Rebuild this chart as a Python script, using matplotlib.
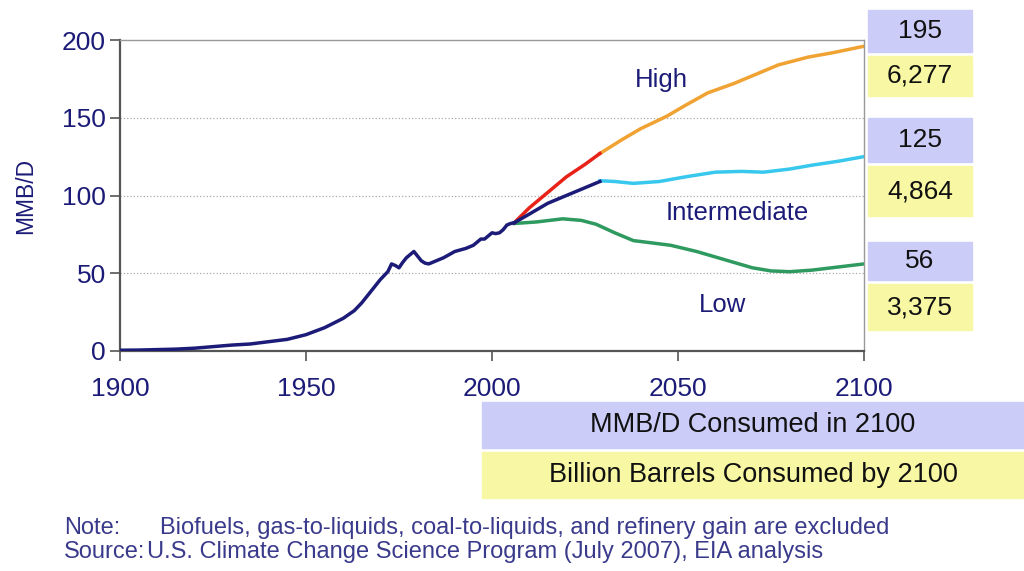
import matplotlib.pyplot as plt
from matplotlib.patches import Rectangle

plt.rcParams['font.family'] = ['Liberation Sans', 'DejaVu Sans']

navy = '#1c1c78'

# historical world oil consumption, MMB/D
hist_years = [1900, 1905, 1910, 1915, 1920, 1925, 1930, 1935, 1940, 1945, 1950,
              1955, 1960, 1963, 1965, 1967, 1970, 1972, 1973, 1974, 1975, 1976,
              1977, 1978, 1979, 1980, 1981, 1982, 1983, 1985, 1987, 1990, 1993,
              1995, 1997, 1998, 1999, 2000, 2001, 2002, 2003, 2004, 2005, 2006]
hist_vals = [0.5, 0.6, 0.9, 1.2, 1.8, 2.8, 3.8, 4.5, 6.0, 7.5, 10.5,
             15, 21, 26, 31, 37, 46, 51, 56, 55, 53.5, 57,
             60, 62, 64, 61, 58, 56.5, 56, 58, 60, 64, 66,
             68, 72, 72, 74, 76, 75.5, 76, 78, 81, 82, 82.5]

# near-term projections to 2030
red_years = [2006, 2010, 2015, 2020, 2025, 2029]
red_vals = [82.5, 92, 102, 112, 120, 127]
mid_years = [2006, 2010, 2015, 2020, 2025, 2029]
mid_vals = [82.5, 88, 95, 100, 105, 109]

# long-term scenarios
high_years = [2029, 2035, 2040, 2047, 2052, 2058, 2065, 2070, 2077, 2085, 2092, 2100]
high_vals = [127, 136, 143, 151, 158, 166, 172, 177, 184, 189, 192, 196]
inter_years = [2029, 2033, 2038, 2045, 2052, 2060, 2067, 2073, 2080, 2086, 2093, 2100]
inter_vals = [109.5, 109, 107.8, 109, 112, 115, 115.5, 115, 117, 119.5, 122, 125]
low_years = [2006, 2012, 2019, 2024, 2028, 2033, 2038, 2043, 2048, 2055, 2060,
             2065, 2070, 2075, 2080, 2086, 2093, 2100]
low_vals = [82, 83, 85, 84, 81.5, 76, 71, 69.5, 68, 64, 60.5,
            57, 53.5, 51.5, 51, 52, 54, 56]

rate_2100 = ['195', '125', '56']
cum_2100 = ['6,277', '4,864', '3,375']

fig = plt.figure(figsize=(10.24, 5.71), dpi=100)
ax = fig.add_axes([120/1024, 1-351/571, 744/1024, 311/571])

lw = 2.5
ax.plot(hist_years, hist_vals, color=navy, lw=lw, zorder=5)
ax.plot(red_years, red_vals, color='#e82218', lw=lw, zorder=4)
ax.plot(mid_years, mid_vals, color=navy, lw=lw, zorder=5)
ax.plot(high_years, high_vals, color='#f0a232', lw=lw)
ax.plot(inter_years, inter_vals, color='#38c8ee', lw=lw)
ax.plot(low_years, low_vals, color='#2e9a60', lw=lw)

ax.set_xlim(1900, 2100)
ax.set_ylim(0, 200)
ax.set_xticks([1900, 1950, 2000, 2050, 2100])
ax.set_yticks([0, 50, 100, 150, 200])
ax.tick_params(axis='both', labelsize=19, labelcolor=navy, length=7,
               width=1.2, color='#555555', direction='out')
ax.tick_params(axis='x', pad=12)
ax.tick_params(axis='y', pad=3)
for s in ['left', 'bottom']:
    ax.spines[s].set_color('#555555')
    ax.spines[s].set_linewidth(1.6)
for s in ['top', 'right']:
    ax.spines[s].set_color('#999999')
    ax.spines[s].set_linewidth(1.0)
for yv in [50, 100, 150]:
    ax.axhline(yv, color='#aaaaaa', lw=0.9, ls=':', zorder=0)

ax.set_ylabel('MMB/D', fontsize=16.5, color=navy, labelpad=18)

ax.text(2045.5, 174, 'High', fontsize=18.5, color=navy, ha='center', va='center')
ax.text(2066, 88.5, 'Intermediate', fontsize=18.5, color=navy, ha='center', va='center')
ax.text(2062, 29.5, 'Low', fontsize=18.5, color=navy, ha='center', va='center')

purple = '#ccccf8'
yellow = '#f8f8a4'
W, H = 1024, 571


def box(x0, y0, x1, y1, color, label, size):
    fig.patches.append(Rectangle((x0/W, 1-y1/H), (x1-x0)/W, (y1-y0)/H,
                                 transform=fig.transFigure, color=color, zorder=0))
    fig.text((x0+x1)/2/W, 1-(y0+y1)/2/H, label, fontsize=size, color='#111111',
             ha='center', va='center')


rate_rows = [(10, 52), (118, 162), (242, 280)]
cum_rows = [(56, 96), (166, 216), (284, 330)]
for (r0, r1), lab in zip(rate_rows, rate_2100):
    box(868, r0, 972, r1, purple, lab, 19)
for (c0, c1), lab in zip(cum_rows, cum_2100):
    box(868, c0, 972, c1, yellow, lab, 19)

box(482, 402, 1024, 448, purple, 'MMB/D Consumed in 2100', 19.5)
box(482, 452, 1024, 498, yellow, 'Billion Barrels Consumed by 2100', 19.5)

note_color = '#3a3a8c'
fig.text(64/W, 1-528/H, 'Note:', fontsize=17, color=note_color, va='center')
fig.text(160/W, 1-528/H,
         'Biofuels, gas-to-liquids, coal-to-liquids, and refinery gain are excluded',
         fontsize=17, color=note_color, va='center')
fig.text(64/W, 1-552/H, 'Source:', fontsize=17, color=note_color, va='center')
fig.text(147/W, 1-552/H, 'U.S. Climate Change Science Program (July 2007), EIA analysis',
         fontsize=17, color=note_color, va='center')

fig.savefig('out.png', dpi=100)
